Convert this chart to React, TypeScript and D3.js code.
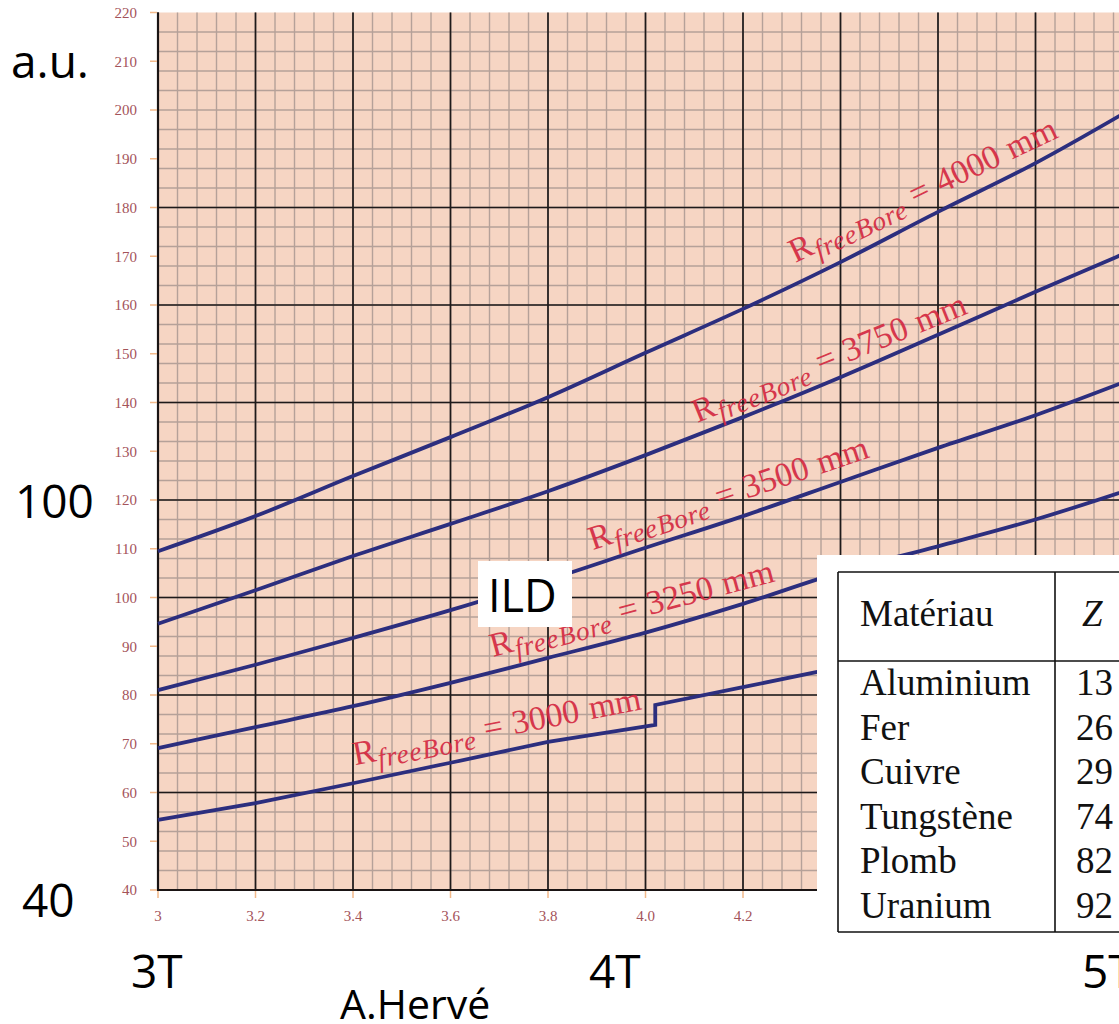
import React from "react";
import * as d3 from "d3";

// Field values (B in tesla) and stored energy for each free-bore radius
const fieldT = [3.0, 3.2, 3.4, 3.6, 3.8, 4.0, 4.2, 4.4, 4.6, 4.8, 5.0];
const r4000 = [109.5, 116.7, 124.9, 132.9, 141.1, 150.2, 159.2, 168.8, 179.1, 189.1, 200.4];
const r3750 = [94.6, 101.5, 108.5, 115.1, 121.8, 129.2, 137.0, 145.2, 153.9, 162.7, 171.3];
const r3500 = [81.0, 86.2, 91.7, 97.4, 103.6, 110.2, 116.7, 123.7, 130.7, 137.4, 144.9];
const r3250 = [69.1, 73.4, 77.7, 82.5, 87.6, 92.8, 98.7, 105.2, 110.5, 116.0, 122.4];
// 3000 mm curve has a jump at 4.02 T
const r3000x = [3.0, 3.2, 3.4, 3.6, 3.8, 4.02, 4.02, 4.2, 4.4];
const r3000y = [54.4, 57.8, 61.9, 66.1, 70.4, 73.85, 77.95, 81.6, 85.7];

const radiiLabels = ["4000", "3750", "3500", "3250", "3000"];

const yTickValues = [40, 50, 60, 70, 80, 90, 100, 110, 120, 130, 140, 150, 160, 170, 180, 190, 200, 210, 220];
const xTickValues = [3.0, 3.2, 3.4, 3.6, 3.8, 4.0, 4.2];
const xTickLabels = ["3", "3.2", "3.4", "3.6", "3.8", "4.0", "4.2"];

const materials = ["Aluminium", "Fer", "Cuivre", "Tungstène", "Plomb", "Uranium"];
const atomicZ = ["13", "26", "29", "74", "82", "92"];

const W = 1119;
const H = 1024;

const x = d3.scaleLinear().domain([3, 5]).range([158, 1133]);
const y = d3.scaleLinear().domain([40, 220]).range([890, 12.5]);

const CURVE = "#2c2e7e";
const LABEL_RED = "#d42a42";
const TICK_TXT = "#a4535a";
const TICK_MARK = "#f2b98a";

// label anchor (data coords) and rotation for each curve annotation
const labelPlacement = [
  { bx: 4.307, by: 168.6, rot: -25.5 },
  { bx: 4.106, by: 135.8, rot: -22 },
  { bx: 3.892, by: 109.7, rot: -18.5 },
  { bx: 3.687, by: 87.8, rot: -15 },
  { bx: 3.404, by: 65.6, rot: -11 },
];

export default function App() {
  const series = [r4000, r3750, r3500, r3250].map((vals) =>
    fieldT.map((t, i) => [t, vals[i]] as [number, number])
  );
  const s3000 = r3000x.map((t, i) => [t, r3000y[i]] as [number, number]);

  const smooth = d3
    .line<[number, number]>()
    .x((d) => x(d[0]))
    .y((d) => y(d[1]))
    .curve(d3.curveMonotoneX);
  const straight = d3
    .line<[number, number]>()
    .x((d) => x(d[0]))
    .y((d) => y(d[1]));

  const minorX = d3.range(0, 51).map((i) => 3 + i * 0.04);
  const majorX = d3.range(0, 11).map((i) => 3 + i * 0.2);
  const minorY = d3.range(0, 45).map((i) => 40 + i * 4);
  const majorY = d3.range(0, 9).map((i) => 40 + i * 20);

  const x0 = x(3);
  const x1 = x(5);
  const yb = y(40);
  const yt = y(220);

  return (
    <div style={{ position: "absolute", left: 0, top: 0, width: W, height: H, background: "#fff" }}>
      <svg width={W} height={H} style={{ display: "block", overflow: "hidden" }}>
        <rect x={0} y={0} width={W} height={H} fill="#ffffff" />
        <rect x={x0} y={yt} width={x1 - x0} height={yb - yt} fill="#f6d5c3" />

        {/* minor grid */}
        <g stroke="#b5a199" strokeWidth={1.4}>
          {minorX.map((v, i) => (
            <line key={"mx" + i} x1={x(v)} x2={x(v)} y1={yt} y2={yb} />
          ))}
          {minorY.map((v, i) => (
            <line key={"my" + i} x1={x0} x2={x1} y1={y(v)} y2={y(v)} />
          ))}
        </g>
        {/* major grid */}
        <g stroke="#1e1a1a" strokeWidth={1.7}>
          {majorX.map((v, i) => (
            <line key={"Mx" + i} x1={x(v)} x2={x(v)} y1={yt} y2={yb} />
          ))}
          {majorY.slice(0, majorY.length - 1).map((v, i) => (
            <line key={"My" + i} x1={x0} x2={x1} y1={y(v)} y2={y(v)} />
          ))}
        </g>
        {/* axes */}
        <line x1={x0} x2={x0} y1={yt} y2={yb + 1} stroke="#1a1414" strokeWidth={2.2} />
        <line x1={x0 - 1} x2={x1} y1={yb} y2={yb} stroke="#1a1414" strokeWidth={2.2} />

        {/* y ticks */}
        {yTickValues.map((v) => (
          <g key={"yt" + v}>
            <line x1={x0 - 8} x2={x0 - 1} y1={y(v)} y2={y(v)} stroke={TICK_MARK} strokeWidth={1.5} />
            <text
              x={x0 - 21}
              y={y(v)}
              dy="0.35em"
              textAnchor="end"
              fontFamily="Liberation Serif, serif"
              fontSize={15}
              fill={TICK_TXT}
            >
              {v}
            </text>
          </g>
        ))}
        {/* x ticks */}
        {xTickValues.map((v, i) => (
          <g key={"xt" + i}>
            <line x1={x(v)} x2={x(v)} y1={yb + 1} y2={yb + 8} stroke={TICK_MARK} strokeWidth={1.5} />
            <text
              x={x(v)}
              y={yb + 31}
              textAnchor="middle"
              fontFamily="Liberation Serif, serif"
              fontSize={15}
              fill={TICK_TXT}
            >
              {xTickLabels[i]}
            </text>
          </g>
        ))}

        {/* curves */}
        <g fill="none" stroke={CURVE} strokeWidth={3.8} strokeLinejoin="round">
          {series.map((s, i) => (
            <path key={"c" + i} d={smooth(s) || ""} />
          ))}
          <path d={straight(s3000) || ""} strokeLinejoin="miter" />
        </g>

        {/* curve annotations */}
        {labelPlacement.map((p, i) => (
          <text
            key={"lab" + i}
            transform={`translate(${x(p.bx)},${y(p.by)}) rotate(${p.rot})`}
            fontFamily="Liberation Serif, serif"
            fontSize={34}
            fill={LABEL_RED}
            opacity={0.92}
          >
            <tspan>R</tspan>
            <tspan fontStyle="italic" fontSize={27} dy={7} dx={1} letterSpacing={1}>
              freeBore
            </tspan>
            <tspan dy={-7} dx={9}>
              =
            </tspan>
            <tspan dx={10}>{radiiLabels[i]}</tspan>
            <tspan dx={10}>mm</tspan>
          </text>
        ))}

        {/* ILD tag */}
        <rect x={478} y={561} width={94} height={66} fill="#ffffff" />
        <text x={488} y={612} fontFamily="Open Sans, sans-serif" fontSize={45} fill="#000">
          ILD
        </text>

        {/* materials table */}
        <rect x={817} y={555} width={W - 817} height={392} fill="#ffffff" />
        <g stroke="#111" strokeWidth={1.6} fill="none">
          <line x1={838} x2={W + 5} y1={572} y2={572} />
          <line x1={838} x2={W + 5} y1={661} y2={661} />
          <line x1={838} x2={W + 5} y1={932} y2={932} />
          <line x1={838} x2={838} y1={572} y2={932} />
          <line x1={1055} x2={1055} y1={572} y2={932} />
        </g>
        <g fontFamily="Liberation Serif, serif" fontSize={37} fill="#111">
          <text x={860} y={626}>Matériau</text>
          <text x={1082} y={626} fontStyle="italic">
            Z
          </text>
          {materials.map((m, i) => (
            <g key={"row" + i}>
              <text x={860} y={695 + i * 44.6}>
                {m}
              </text>
              <text x={1076} y={695 + i * 44.6}>
                {atomicZ[i]}
              </text>
            </g>
          ))}
        </g>

        {/* outer annotations */}
        <g fontFamily="Open Sans, sans-serif" fill="#000">
          <text x={11} y={78} fontSize={46}>
            a.u.
          </text>
          <text x={15} y={518} fontSize={46}>
            100
          </text>
          <text x={22} y={917} fontSize={46}>
            40
          </text>
          <text x={131} y={988} fontSize={46}>
            3T
          </text>
          <text x={589} y={988} fontSize={46}>
            4T
          </text>
          <text x={1082} y={988} fontSize={46}>
            5T
          </text>
          <text x={340} y={1019} fontSize={41}>
            A.Hervé
          </text>
        </g>
      </svg>
    </div>
  );
}
